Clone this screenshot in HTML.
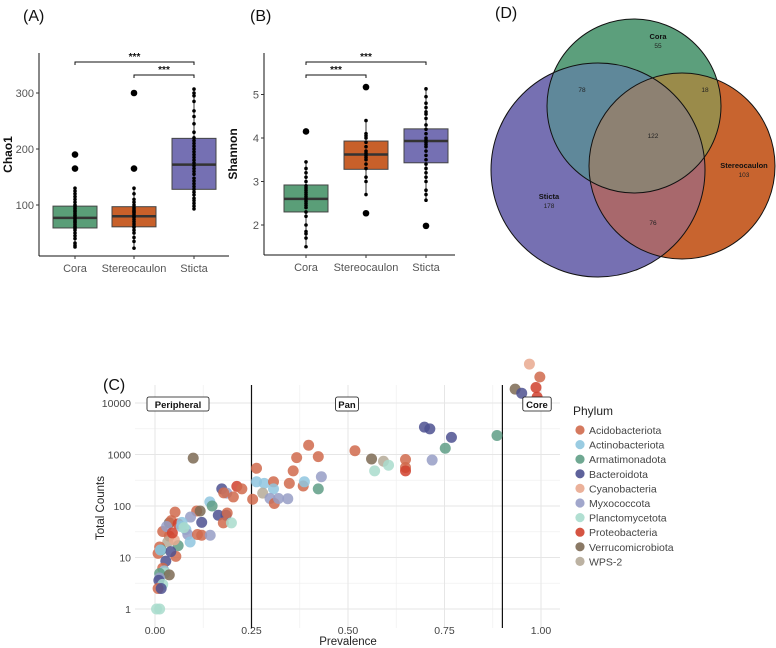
<!DOCTYPE html>
<html><head><meta charset="utf-8">
<style>
body{margin:0;background:#fff;}
svg{display:block;font-family:"Liberation Sans",Arial,sans-serif;}
</style></head>
<body>
<svg id="fig" width="776" height="648" viewBox="0 0 776 648" xmlns="http://www.w3.org/2000/svg">
<defs>
<clipPath id="cpSticta"><circle cx="598" cy="170" r="107"/></clipPath>
<clipPath id="cpStereo"><circle cx="682" cy="166" r="93"/></clipPath>
<clipPath id="cpCora"><circle cx="634" cy="106" r="87"/></clipPath>
</defs>
<g id="gA"></g>
<g id="gB"></g>
<g id="gD"></g>
<g id="gC"></g>
</svg>
<script>
// ---------- data ----------
const boxCategories = ["Cora","Stereocaulon","Sticta"];
const chaoStats = [[25,59,77,98,130],[23,61,80,97,130],[93,128,172,219,307]];
const chaoOutliers = [[190,165],[300,165],[]];
const chaoPointsCora = [25,28,32,40,45,50,55,58,60,62,65,68,70,72,75,77,80,82,85,88,90,93,95,98,100,105,110,115,120,125,130];
const chaoPointsStereo = [23,35,42,50,55,60,62,66,70,74,78,80,83,86,88,90,93,96,100,105,110,120,130];
const chaoPointsSticta = [93,98,103,108,112,118,123,128,133,138,143,148,155,160,165,170,175,180,185,190,195,200,205,210,215,220,230,245,258,268,285,295,300,307];
const shanStats = [[1.5,2.3,2.6,2.92,3.45],[2.7,3.28,3.62,3.93,4.4],[2.57,3.43,3.93,4.21,5.13]];
const shanOutliers = [[4.15],[5.17,2.27],[1.98]];
const shanPointsCora = [1.5,1.7,1.8,1.85,2.0,2.2,2.3,2.4,2.45,2.5,2.55,2.6,2.65,2.7,2.75,2.8,2.85,2.9,3.0,3.1,3.2,3.3,3.45];
const shanPointsStereo = [2.7,3.0,3.1,3.3,3.4,3.5,3.55,3.6,3.65,3.7,3.8,3.9,4.0,4.05,4.1,4.4];
const shanPointsSticta = [2.57,2.7,2.8,3.0,3.1,3.2,3.3,3.4,3.5,3.6,3.7,3.8,3.85,3.9,3.95,4.0,4.1,4.2,4.3,4.45,4.55,4.6,4.7,4.8,4.95,5.13];

const phyla = ["Acidobacteriota","Actinobacteriota","Armatimonadota","Bacteroidota","Cyanobacteria","Myxococcota","Planctomycetota","Proteobacteria","Verrucomicrobiota","WPS-2"];
const phylaColors = ["#d06a4c","#8fc6df","#5f9e86","#4d5190","#e9a98f","#979dc6","#a9dccd","#d0412e","#7d6a54","#b5aa98"];
const xTicks = [0,0.25,0.5,0.75,1];
const xTickLabels = ["0.00","0.25","0.50","0.75","1.00"];
const yTicks = [1,10,100,1000,10000];
const yTickLabels = ["1","10","100","1000","10000"];
// points: prevalence, count, phylum index
const prevalence = [0.099,0.263,0.253,0.263,0.283,0.279,0.307,0.307,0.298,0.309,0.32,0.344,0.348,0.358,0.367,0.384,0.387,0.398,0.423,0.423,0.431,0.518,0.561,0.569,0.592,0.605,0.649,0.649,0.649,0.698,0.712,0.718,0.752,0.768,0.886,
0.173,0.186,0.178,0.212,0.225,0.203,0.142,0.148,0.108,0.117,0.164,0.184,0.187,0.177,0.198,0.092,0.121,0.121,0.143,0.052,0.037,0.042,0.06,0.02,0.037,0.068,0.08,0.085,0.091,0.06,0.033,0.05,0.012,0.008,0.054,0.016,0.041,0.028,0.02,0.024,0.026,0.012,0.037,0.012,0.01,0.02,0.008,0.016,0.012,0.004,0.014,0.03,0.045,0.07,0.075,0.11,
0.97,0.997,0.987,0.933,0.95,0.99];
const counts = [850,540,135,295,275,178,295,215,140,112,140,138,275,480,870,245,295,1510,910,215,370,1180,820,480,740,620,800,560,480,3400,3150,780,1320,2150,2340,
215,178,180,240,215,150,120,100,80,80,66,66,73,47,47,61,48,27,27,76,47,52,45,32,26,40,35,28,20,17,20,22,16,12,10.5,14,13,8.5,6.2,5.5,5,4.9,4.6,4,3.6,3,2.5,2.5,1,1,14,40,30,48,38,28,
57000,32000,20000,18600,15500,13000];
const phylumIdx = [8,0,0,1,1,9,0,1,5,0,5,5,0,0,0,0,1,0,0,2,5,0,8,6,9,6,0,0,7,3,3,5,2,3,2,
3,5,0,7,0,0,1,2,0,8,3,3,0,0,6,5,3,0,5,0,8,0,7,0,0,1,1,5,1,2,9,4,0,0,0,2,3,3,0,1,6,2,8,5,3,6,0,3,6,6,1,5,7,1,6,0,
4,0,7,8,3,7];
const vennLabels = ["Cora","Stereocaulon","Sticta"];
const vennCounts = {cora:55,stereo:103,sticta:178,coraSticta:78,coraStereo:18,stereoSticta:76,all:122};

// ---------- helpers ----------
const NS="http://www.w3.org/2000/svg";
function mk(parent,tag,attrs,text){const e=document.createElementNS(NS,tag);for(const k in attrs)e.setAttribute(k,attrs[k]);if(text!==undefined)e.textContent=text;parent.appendChild(e);return e;}

// ---------- box plot panel ----------
function boxPanel(g,opt){
  const {x0,x1,yb,ytop,yScale,ticks,tickLabels,stats,outliers,points,title,cats,label,labelX,brackets}=opt;
  const t=mk(g,'text',{x:labelX,y:21,'font-size':16,fill:'#111'},label);
  
  
  const xa=mk(g,'line',{x1:x0,y1:yb,x2:x1,y2:yb,stroke:'#111','stroke-width':1});
  
  
  const ya=mk(g,'line',{x1:x0,y1:ytop,x2:x0,y2:yb,stroke:'#111','stroke-width':1});
  
  
  ticks.forEach((v,i)=>{const y=yScale(v);
    mk(g,'line',{x1:x0-3,y1:y,x2:x0,y2:y,stroke:'#333'});
    const tl=mk(g,'text',{x:x0-5,y:y+4,'font-size':11,fill:'#555','text-anchor':'end'},tickLabels[i]);
    
    
  });
  const yt=mk(g,'text',{x:0,y:0,'font-size':12,'font-weight':'bold',fill:'#111','text-anchor':'middle',transform:`translate(${x0-27},${(ytop+yb)/2}) rotate(-90)`},title);
  
  
  const fills=['#5a9e78','#c8602a','#7570b3'];
  cats.forEach((c,i)=>{
    const cx=opt.cx[i];const s=stats[i];
    mk(g,'line',{x1:cx,y1:yb,x2:cx,y2:yb+3,stroke:'#333'});
    const xl=mk(g,'text',{x:cx,y:yb+16,'font-size':11,fill:'#555','text-anchor':'middle'},c);
    
    
    mk(g,'line',{x1:cx,y1:yScale(s[0]),x2:cx,y2:yScale(s[4]),stroke:'#333','stroke-width':1});
    const b=mk(g,'rect',{x:cx-22,y:yScale(s[3]),width:44,height:yScale(s[1])-yScale(s[3]),fill:fills[i],stroke:'#444','stroke-width':1});
    
    
    mk(g,'line',{x1:cx-22,y1:yScale(s[2]),x2:cx+22,y2:yScale(s[2]),stroke:'#333','stroke-width':2.5});
    points[i].forEach(v=>{const p=mk(g,'circle',{cx:cx,cy:yScale(v),r:1.8,fill:'#000'});
      
      });
    outliers[i].forEach(v=>{const p=mk(g,'circle',{cx:cx,cy:yScale(v),r:3.3,fill:'#000'});
      
      });
  });
  brackets.forEach(br=>{
    const a=opt.cx[br[0]],b2=opt.cx[br[1]],y=br[2];
    const p=mk(g,'path',{d:`M${a},${y+3}V${y}H${b2}V${y+3}`,fill:'none',stroke:'#111','stroke-width':1});
    
    
    const s=mk(g,'text',{x:(a+b2)/2,y:y-2,'font-size':10,'font-weight':'bold',fill:'#111','text-anchor':'middle'},'***');
    
    
  });
}
boxPanel(document.getElementById('gA'),{x0:39,x1:229,yb:256,ytop:53,yScale:v=>261-v*0.56,ticks:[100,200,300],tickLabels:['100','200','300'],
 stats:chaoStats,outliers:chaoOutliers,points:[chaoPointsCora,chaoPointsStereo,chaoPointsSticta],title:'Chao1',cats:boxCategories,cx:[75,134,194],label:'(A)',labelX:23,
 brackets:[[0,2,62],[1,2,75]]});
boxPanel(document.getElementById('gB'),{x0:264,x1:455,yb:255,ytop:53,yScale:v=>225-(v-2)*43.5,ticks:[2,3,4,5],tickLabels:['2','3','4','5'],
 stats:shanStats,outliers:shanOutliers,points:[shanPointsCora,shanPointsStereo,shanPointsSticta],title:'Shannon',cats:boxCategories,cx:[306,366,426],label:'(B)',labelX:250,
 brackets:[[0,2,62],[0,1,75]]});

// ---------- Venn ----------
(function(){
  const g=document.getElementById('gD');
  const t=mk(g,'text',{x:495,y:18,'font-size':16,fill:'#111'},'(D)');
  
  
  const circ={sticta:[598,170,107,'#7670b2'],stereo:[682,166,93,'#c8642f'],cora:[634,106,87,'#5c9f7c']};
  ['sticta','stereo','cora'].forEach(k=>{const c=circ[k];const e=mk(g,'circle',{cx:c[0],cy:c[1],r:c[2],fill:c[3]});
    
    });
  function overlap(a,b,color){const c=circ[a];const gg=mk(g,'g',{'clip-path':`url(#${b})`});
    mk(gg,'circle',{cx:c[0],cy:c[1],r:c[2],fill:color});return gg;}
  overlap('cora','cpSticta','#5f889a');
  overlap('cora','cpStereo','#9a8b4a');
  overlap('stereo','cpSticta','#a8686c');
  const g3=mk(g,'g',{'clip-path':'url(#cpSticta)'});
  const g3b=mk(g3,'g',{'clip-path':'url(#cpStereo)'});
  mk(g3b,'circle',{cx:634,cy:106,r:87,fill:'#8d8172'});
  ['sticta','stereo','cora'].forEach(k=>{const c=circ[k];mk(g,'circle',{cx:c[0],cy:c[1],r:c[2],fill:'none',stroke:'#111','stroke-width':1});});
  function lab(x,y,name,key){
    if(name){const n=mk(g,'text',{x:x,y:y,'font-size':7.5,'font-weight':'bold',fill:'#111','text-anchor':'middle'},name);
      
      y+=9;}
    const v=mk(g,'text',{x:x,y:y,'font-size':6.5,fill:'#222','text-anchor':'middle'},String(vennCounts[key]));
    
    
  }
  lab(658,39,vennLabels[0],'cora');
  lab(744,168,vennLabels[1],'stereo');
  lab(549,199,vennLabels[2],'sticta');
  lab(582,92,null,'coraSticta');
  lab(705,92,null,'coraStereo');
  lab(653,138,null,'all');
  lab(653,225,null,'stereoSticta');
})();

// ---------- Scatter C ----------
(function(){
  const g=document.getElementById('gC');
  const L=135,R=560,T=385,B=628;
  const xs=p=>155+p*386, ys=c=>609-Math.log10(c)*51.5;
  const t=mk(g,'text',{x:103,y:390,'font-size':16,fill:'#111'},'(C)');
  
  
  for(let i=0;i<xTicks.length-1;i++){const x=xs((xTicks[i]+xTicks[i+1])/2);mk(g,'line',{x1:x,y1:T,x2:x,y2:B,stroke:'#f0f0f0','stroke-width':0.8});}
  for(let i=0;i<yTicks.length-1;i++){const y=ys(Math.sqrt(yTicks[i]*yTicks[i+1]));mk(g,'line',{x1:L,y1:y,x2:R,y2:y,stroke:'#f0f0f0','stroke-width':0.8});}
  xTicks.forEach((v,i)=>{const x=xs(v);mk(g,'line',{x1:x,y1:T,x2:x,y2:B,stroke:'#e6e6e6','stroke-width':1});
    const l=mk(g,'text',{x:x,y:B+6,'font-size':10.5,fill:'#444','text-anchor':'middle'},xTickLabels[i]);
    
    });
  yTicks.forEach((v,i)=>{const y=ys(v);mk(g,'line',{x1:L,y1:y,x2:R,y2:y,stroke:'#e6e6e6','stroke-width':1});
    const l=mk(g,'text',{x:L-4,y:y+4,'font-size':10.5,fill:'#444','text-anchor':'end'},yTickLabels[i]);
    
    });
  [0.25,0.9].forEach(v=>{const l=mk(g,'line',{x1:xs(v),y1:T,x2:xs(v),y2:B,stroke:'#111','stroke-width':1.2});
    
    });
  for(let i=0;i<prevalence.length;i++){
    const c=mk(g,'circle',{cx:xs(prevalence[i]),cy:ys(counts[i]),r:5.5,fill:phylaColors[phylumIdx[i]],'fill-opacity':0.85});
    
    
  }
  [['Peripheral',178],['Pan',347],['Core',537]].forEach(z=>{
    const w=z[0].length*5.6+6;
    mk(g,'rect',{x:z[1]-w/2,y:397,width:w,height:14,rx:2,fill:'#fff',stroke:'#111','stroke-width':0.8});
    const tx=mk(g,'text',{x:z[1],y:408,'font-size':9.5,'font-weight':'bold',fill:'#111','text-anchor':'middle'},z[0]);
    
    
  });
  const yt=mk(g,'text',{x:0,y:0,'font-size':11.5,fill:'#222','text-anchor':'middle',transform:'translate(104,508) rotate(-90)'},'Total Counts');
  
  
  const xt=mk(g,'text',{x:348,y:645,'font-size':11.5,fill:'#222','text-anchor':'middle'},'Prevalence');
  
  
  const lt=mk(g,'text',{x:573,y:415,'font-size':12,fill:'#222'},'Phylum');
  
  
  phyla.forEach((p,i)=>{const y=430+i*14.6;
    const c=mk(g,'circle',{cx:580,cy:y,r:4.6,fill:phylaColors[i],'fill-opacity':0.9});
    
    
    const tx=mk(g,'text',{x:589,y:y+4,'font-size':10.5,fill:'#444'},p);
    
    });
})();
</script>
</body></html>
